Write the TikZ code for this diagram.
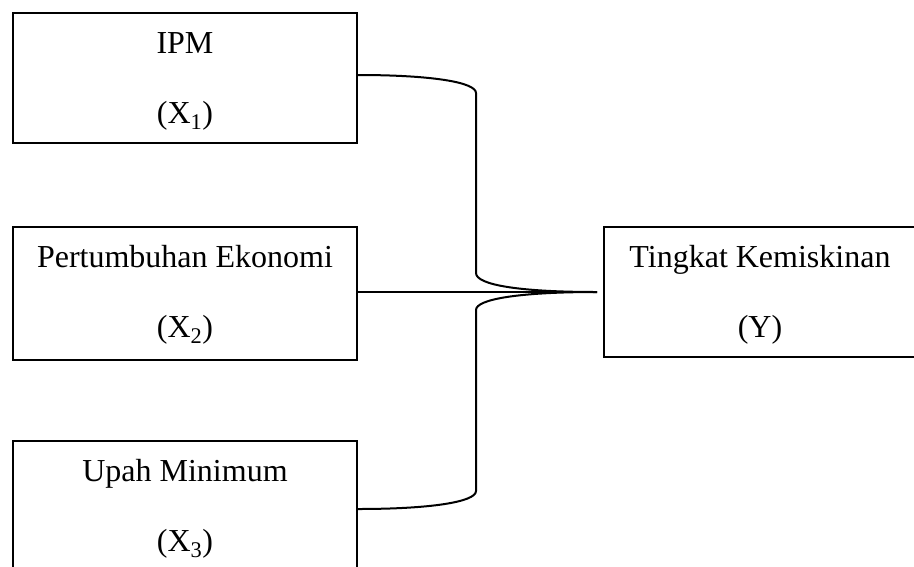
\documentclass[tikz,border=0pt]{standalone}
\usepackage{fontspec}
\setmainfont{Liberation Serif}
\begin{document}
\begin{tikzpicture}[x=1pt,y=-1pt,
  box/.style={draw,line width=2.2pt,rectangle,inner sep=0pt,minimum width=344pt},
  lbl/.style={anchor=base,font=\fontsize{32}{38}\selectfont,inner sep=0pt},
  conn/.style={line width=2pt}]
\useasboundingbox (0,0) rectangle (914,566);
% boxes
\node[box,minimum height=130pt] (b1) at (185,78) {};
\node[box,minimum height=133pt] (b2) at (185,293.5) {};
\node[box,minimum height=134pt] (b3) at (185,508) {};
\node[box,minimum width=312pt,minimum height=130pt] (by) at (760,292) {};
% texts
\node[lbl] (t1a) at (185,53.5) {IPM};
\node[lbl] (t1b) at (185,123.5) {(X\textsubscript{1})};
\node[lbl] (t2a) at (185,267.5) {Pertumbuhan Ekonomi};
\node[lbl] (t2b) at (185,337.5) {(X\textsubscript{2})};
\node[lbl] (t3a) at (185,481.5) {Upah Minimum};
\node[lbl] (t3b) at (185,551.5) {(X\textsubscript{3})};
\node[lbl] (tya) at (760,267.5) {Tingkat Kemiskinan};
\node[lbl] (tyb) at (760,337.5) {(Y)};
% brace connector
\coordinate (tip) at (597,292);
\draw[conn] ([yshift=3pt]b1.east) .. controls (430,75) and (476,82) .. (476,93)
  -- (476,273) .. controls (476,285) and (520,292) .. (tip);
\draw[conn] ([yshift=-1pt]b3.east) .. controls (430,509) and (476,502) .. (476,491)
  -- (476,310) .. controls (476,299) and (520,292) .. (tip);
\draw[conn] (b2.east |- tip) -- (tip);
\end{tikzpicture}
\end{document}
